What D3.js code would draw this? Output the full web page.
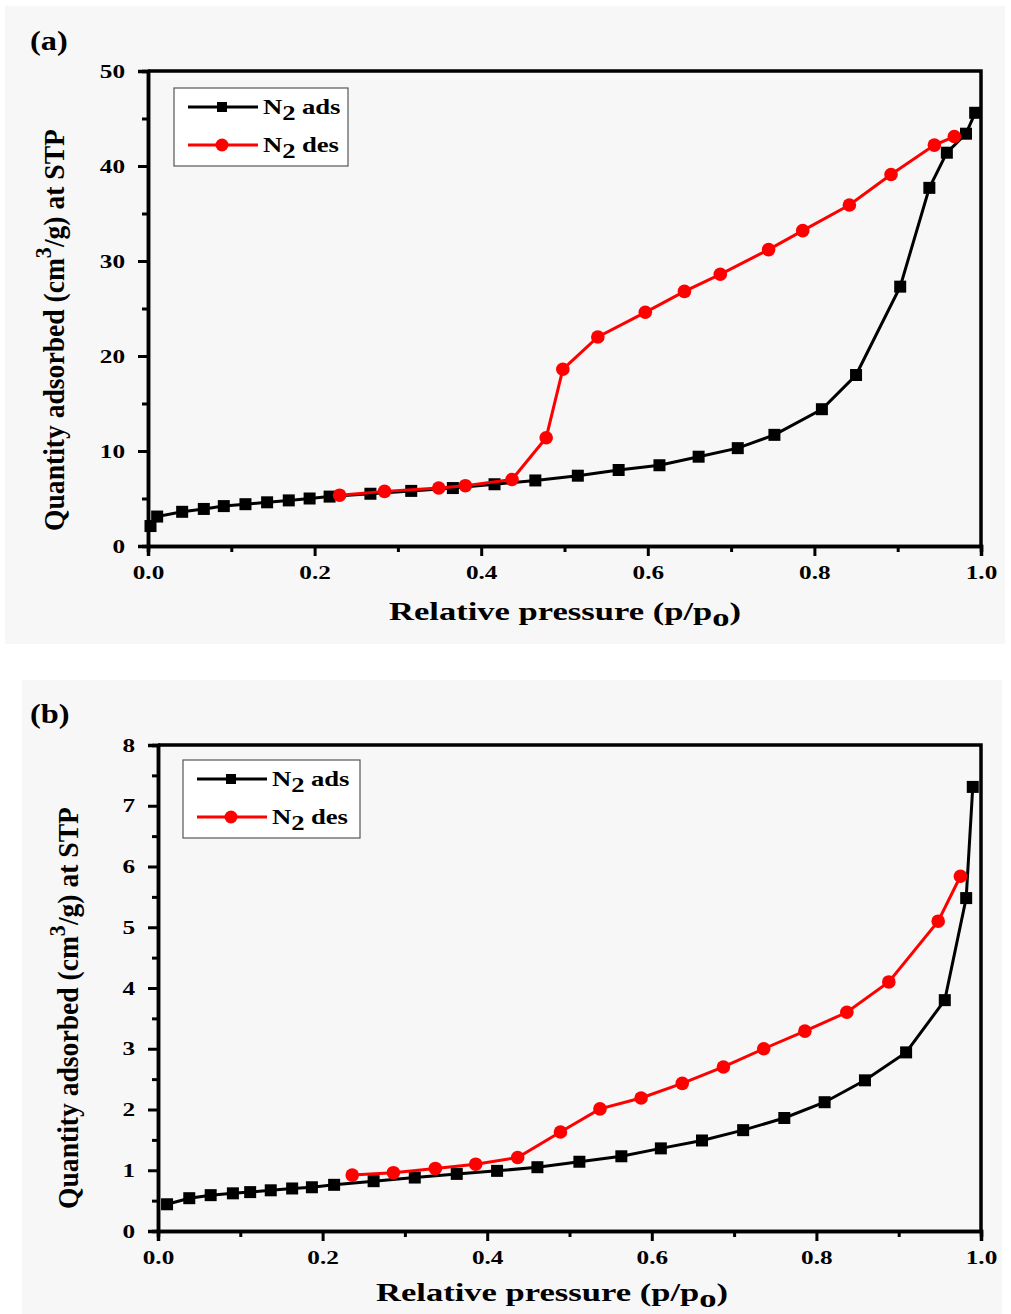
<!DOCTYPE html>
<html>
<head>
<meta charset="utf-8">
<script src="https://cdn.jsdelivr.net/npm/d3@7"></script>
<style>
  body { margin: 0; background: #fff; }
  svg { display: block; }
  text { font-family: "Liberation Serif", "Times New Roman", serif; font-weight: bold; }
</style>
</head>
<body>
<svg id="chart" width="1011" height="1314"></svg>
<script>
// Panel (a) adsorption / desorption
var adsXa = [0.003, 0.011, 0.041, 0.067, 0.091, 0.117, 0.143, 0.169, 0.194, 0.218, 0.267, 0.316, 0.366, 0.416, 0.465,
  0.516, 0.565, 0.614, 0.661, 0.708, 0.752, 0.809, 0.850, 0.903, 0.938, 0.959, 0.982, 0.993]
var adsYa = [2.1, 3.1, 3.6, 3.9, 4.2, 4.4, 4.6, 4.8, 5.0, 5.2, 5.5, 5.8, 6.1, 6.5, 6.9,
  7.4, 8.0, 8.5, 9.4, 10.3, 11.7, 14.4, 18.0, 27.3, 37.7, 41.4, 43.4, 45.6]
var desXa = [0.230, 0.284, 0.349, 0.381, 0.437, 0.478, 0.498, 0.540, 0.597, 0.644, 0.687, 0.745, 0.786, 0.842, 0.892, 0.944, 0.968]
var desYa = [5.35, 5.75, 6.1, 6.35, 7.0, 11.4, 18.6, 22.0, 24.6, 26.8, 28.6, 31.2, 33.2, 35.9, 39.1, 42.2, 43.1]

// Panel (b)
var adsXb = [0.011, 0.038, 0.064, 0.091, 0.112, 0.137, 0.163, 0.187, 0.214, 0.262, 0.312, 0.363, 0.412, 0.461,
  0.512, 0.563, 0.611, 0.661, 0.711, 0.761, 0.810, 0.859, 0.909, 0.956, 0.982, 0.990]
var adsYb = [0.44, 0.54, 0.59, 0.62, 0.64, 0.67, 0.70, 0.72, 0.76, 0.82, 0.88, 0.94, 0.99, 1.05,
  1.14, 1.23, 1.36, 1.49, 1.66, 1.86, 2.12, 2.48, 2.94, 3.80, 5.48, 7.31]
var desXb = [0.236, 0.286, 0.337, 0.386, 0.437, 0.489, 0.537, 0.587, 0.637, 0.687, 0.736, 0.786, 0.837, 0.888, 0.948, 0.975]
var desYb = [0.92, 0.96, 1.03, 1.10, 1.21, 1.63, 2.01, 2.19, 2.43, 2.70, 3.00, 3.29, 3.60, 4.10, 5.10, 5.84]

var xTicks = [0, 0.2, 0.4, 0.6, 0.8, 1.0]
var yTicksA = [0, 10, 20, 30, 40, 50]
var yTicksB = [0, 1, 2, 3, 4, 5, 6, 7, 8]
var seriesNames = ['ads', 'des']
var seriesColors = ['#000000', '#ff0000']

// the scanned figure's text is wide, so stretch glyphs horizontally
var wide = 1.33

var svg = d3.select('#chart')

// faint grey photo background behind each panel
svg.append('rect').attr('x', 5).attr('y', 6).attr('width', 1000).attr('height', 638).attr('fill', '#f7f7f7')
svg.append('rect').attr('x', 22).attr('y', 680).attr('width', 980).attr('height', 634).attr('fill', '#f7f7f7')

function drawPanel(opt) {
  var x = d3.scaleLinear().domain([0, 1]).range([opt.left, opt.right])
  var y = d3.scaleLinear().domain([0, opt.yMax]).range([opt.bottom, opt.top])
  var g = svg.append('g')

  // panel letter
  g.append('text')
    .attr('transform', 'translate(' + opt.letterX + ',' + opt.letterY + ') scale(1.2,1)')
    .attr('font-size', 27).text(opt.letter)

  // frame top/right
  g.append('path')
    .attr('d', 'M' + opt.left + ',' + opt.top + 'H' + opt.right + 'V' + opt.bottom)
    .attr('fill', 'none').attr('stroke', '#000').attr('stroke-width', 3.5)

  // minor ticks
  var xMinor = d3.range(0.1, 1, 0.2)
  g.append('g').attr('transform', 'translate(0,' + opt.bottom + ')')
    .call(d3.axisBottom(x).tickValues(xMinor).tickSize(6).tickFormat(''))
  var yMinor = opt.yTicks.slice(1).map(function (d, i) { return (d + opt.yTicks[i]) / 2 })
  g.append('g').attr('transform', 'translate(' + opt.left + ',0)')
    .call(d3.axisLeft(y).tickValues(yMinor).tickSize(6).tickFormat(''))

  // major axes
  g.append('g').attr('transform', 'translate(0,' + opt.bottom + ')')
    .call(d3.axisBottom(x).tickValues(xTicks).tickSize(10).tickPadding(10).tickFormat(d3.format('.1f')))
    .selectAll('text').attr('transform', 'scale(' + wide + ',1)')
  g.append('g').attr('transform', 'translate(' + opt.left + ',0)')
    .call(d3.axisLeft(y).tickValues(opt.yTicks).tickSize(10).tickPadding(13).tickFormat(d3.format('d')))
    .selectAll('text').attr('x', -23 / wide).attr('transform', 'scale(' + wide + ',1)')

  g.selectAll('.domain').attr('stroke-width', 3.5).attr('stroke', '#000')
  g.selectAll('.tick line').attr('stroke-width', 3).attr('stroke', '#000')
  g.selectAll('.tick text').attr('font-size', 19).attr('fill', '#000')
    .style('font-family', '"Liberation Serif", serif')

  // series
  var line = d3.line().x(function (d) { return x(d[0]) }).y(function (d) { return y(d[1]) })
  var ads = d3.zip(opt.adsX, opt.adsY)
  var des = d3.zip(opt.desX, opt.desY)

  g.append('path').datum(ads).attr('d', line)
    .attr('fill', 'none').attr('stroke', seriesColors[0]).attr('stroke-width', 3)
  g.selectAll('.sq').data(ads).enter().append('rect')
    .attr('x', function (d) { return x(d[0]) - 6 })
    .attr('y', function (d) { return y(d[1]) - 6 })
    .attr('width', 12).attr('height', 12).attr('fill', seriesColors[0])

  g.append('path').datum(des).attr('d', line)
    .attr('fill', 'none').attr('stroke', seriesColors[1]).attr('stroke-width', 3)
  g.selectAll('.ci').data(des).enter().append('circle')
    .attr('cx', function (d) { return x(d[0]) })
    .attr('cy', function (d) { return y(d[1]) })
    .attr('r', 6.8).attr('fill', seriesColors[1])

  // legend
  var lg = g.append('g').attr('transform', 'translate(' + opt.legX + ',' + opt.legY + ')')
  lg.append('rect').attr('x', 0).attr('y', 0).attr('width', opt.legW).attr('height', 78)
    .attr('fill', '#fff').attr('stroke', '#555').attr('stroke-width', 1.2)
  seriesNames.forEach(function (name, i) {
    var cy = 19 + i * 38
    lg.append('line').attr('x1', 14).attr('x2', 84).attr('y1', cy).attr('y2', cy)
      .attr('stroke', seriesColors[i]).attr('stroke-width', 3)
    if (i === 0) {
      lg.append('rect').attr('x', 43).attr('y', cy - 5).attr('width', 10).attr('height', 10).attr('fill', seriesColors[i])
    } else {
      lg.append('circle').attr('cx', 48).attr('cy', cy).attr('r', 6.5).attr('fill', seriesColors[i])
    }
    var t = lg.append('text')
      .attr('transform', 'translate(89,' + (cy + 7) + ') scale(1.27,1)')
      .attr('font-size', 21)
    t.append('tspan').text('N')
    t.append('tspan').attr('dy', 6).text('2')
    t.append('tspan').attr('dy', -6).attr('dx', 5).text(name)
  })

  // x title
  var xt = g.append('text')
    .attr('transform', 'translate(' + opt.xTitleX + ',' + opt.xTitleY + ') scale(' + wide + ',1)')
    .attr('text-anchor', 'middle').attr('font-size', 26)
  xt.append('tspan').text('Relative pressure (p/p')
  xt.append('tspan').attr('dy', 6).text('o')
  xt.append('tspan').attr('dy', -6).text(')')

  // y title
  var yt = g.append('text')
    .attr('transform', 'translate(' + opt.yTitleX + ',' + opt.yTitleY + ') rotate(-90) scale(0.92,1)')
    .attr('text-anchor', 'middle').attr('font-size', 30)
  yt.append('tspan').text('Quantity adsorbed (cm')
  yt.append('tspan').attr('dy', -13).attr('font-size', 24).text('3')
  yt.append('tspan').attr('dy', 13).text('/g) at STP')
}

drawPanel({
  letter: '(a)', letterX: 30, letterY: 50,
  left: 148, right: 981, top: 71, bottom: 546, yMax: 50, yTicks: yTicksA,
  adsX: adsXa, adsY: adsYa, desX: desXa, desY: desYa,
  legX: 174, legY: 88, legW: 174,
  xTitleX: 565, xTitleY: 620, yTitleX: 64, yTitleY: 330
})

drawPanel({
  letter: '(b)', letterX: 30, letterY: 723,
  left: 158, right: 981, top: 745, bottom: 1231, yMax: 8, yTicks: yTicksB,
  adsX: adsXb, adsY: adsYb, desX: desXb, desY: desYb,
  legX: 183, legY: 760, legW: 177,
  xTitleX: 552, xTitleY: 1301, yTitleX: 78, yTitleY: 1008
})
</script>
</body>
</html>
